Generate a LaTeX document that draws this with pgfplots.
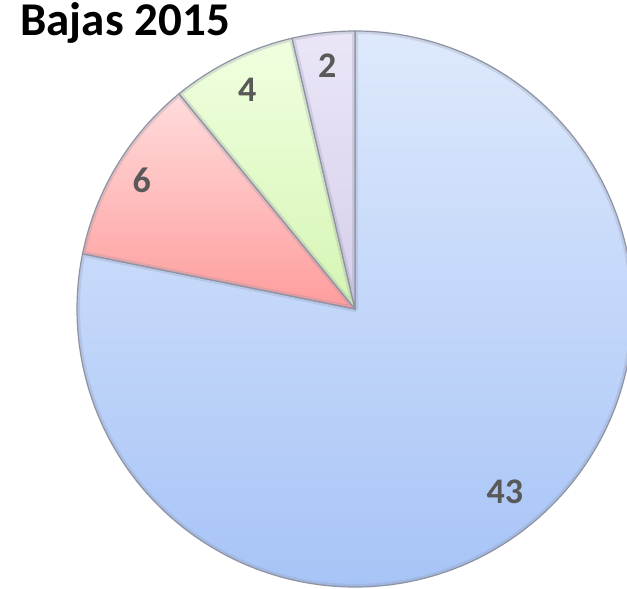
\documentclass[border=0pt]{standalone}
\usepackage{pgfplots}
\usepackage{pgfplotstable}
\pgfplotsset{compat=1.18}
\usetikzlibrary{calc}
\usepackage{fontspec}
\setmainfont{Carlito}
\definecolor{lblcol}{HTML}{595959}
\definecolor{bTop}{HTML}{DEE9FC}
\definecolor{bBot}{HTML}{A7C4F7}
\definecolor{rTop}{HTML}{FFDCDC}
\definecolor{rBot}{HTML}{FF9C9C}
\definecolor{gTop}{HTML}{F0FFE0}
\definecolor{gBot}{HTML}{D6F5B4}
\definecolor{pTop}{HTML}{EAE6F7}
\definecolor{pBot}{HTML}{D6CEEC}
\definecolor{edge}{HTML}{8E93A3}
\pgfplotstableread{
label value
43 43
6 6
4 4
2 2
}\datatable
\newcommand\pieslice[4]{%
  \shade[top color=#3, bottom color=#4]
    (C) -- ++(#1:\R) arc[start angle=#1, end angle=#2, radius=\R] -- cycle;
  \begin{scope}
  \clip (C) -- ++(#1:\R) arc[start angle=#1, end angle=#2, radius=\R] -- cycle;
  \draw[soft] (C) -- ++(#1:\R) arc[start angle=#1, end angle=#2, radius=\R] -- cycle;
  \end{scope}
  \draw[edgeline] (C) -- ++(#1:\R) arc[start angle=#1, end angle=#2, radius=\R] -- cycle;
}
\begin{document}
\begin{tikzpicture}
\pgfplotstablegetelem{0}{value}\of\datatable \let\vA\pgfplotsretval
\pgfplotstablegetelem{1}{value}\of\datatable \let\vB\pgfplotsretval
\pgfplotstablegetelem{2}{value}\of\datatable \let\vC\pgfplotsretval
\pgfplotstablegetelem{3}{value}\of\datatable \let\vD\pgfplotsretval
\pgfmathsetmacro\tot{\vA+\vB+\vC+\vD}
\pgfmathsetmacro\aS{90}
\pgfmathsetmacro\aA{\aS-360*\vA/\tot}
\pgfmathsetmacro\aB{\aA-360*\vB/\tot}
\pgfmathsetmacro\aC{\aB-360*\vC/\tot}
\pgfmathsetmacro\aD{\aC-360*\vD/\tot}
\pgfmathsetmacro\mA{(\aS+\aA)/2}
\pgfmathsetmacro\mB{(\aA+\aB)/2}
\pgfmathsetmacro\mC{(\aB+\aC)/2}
\pgfmathsetmacro\mD{(\aC+\aD)/2}
\def\R{139pt}
\tikzset{edgeline/.style={draw=edge, line width=0.6pt, line join=round}}
\tikzset{soft/.style={draw=edge, line width=3pt, opacity=0.25, line join=round}}
\begin{axis}[
  width=313.5pt, height=294.5pt, scale only axis,
  xmin=0, xmax=627, ymin=0, ymax=589,
  hide axis, clip=true,
]
\coordinate (SW) at (axis cs:0,0);
\coordinate (NE) at (axis cs:627,589);
\coordinate (C) at (axis cs:355,280);
\pieslice{\aS}{\aA}{bTop}{bBot}
\pieslice{\aA}{\aB}{rTop}{rBot}
\pieslice{\aB}{\aC}{gTop}{gBot}
\pieslice{\aC}{\aD}{pTop}{pBot}
\node[text=lblcol, font=\fontsize{18}{20}\selectfont\bfseries] at ($(C)+(\mA:118.3pt)$) {\vA};
\node[text=lblcol, font=\fontsize{18}{20}\selectfont\bfseries] at ($(C)+(\mB:124.5pt)$) {\vB};
\node[text=lblcol, font=\fontsize{18}{20}\selectfont\bfseries] at ($(C)+(\mC:122pt)$) {\vC};
\node[text=lblcol, font=\fontsize{18}{20}\selectfont\bfseries] at ($(C)+(\mD:122.3pt)$) {\vD};
\node[anchor=base west, inner sep=0pt, font=\fontsize{23.5}{25}\selectfont\bfseries] at (axis cs:20,553) {Bajas 2015};
\end{axis}
\pgfresetboundingbox
\path (SW) rectangle (NE);
\end{tikzpicture}
\end{document}
